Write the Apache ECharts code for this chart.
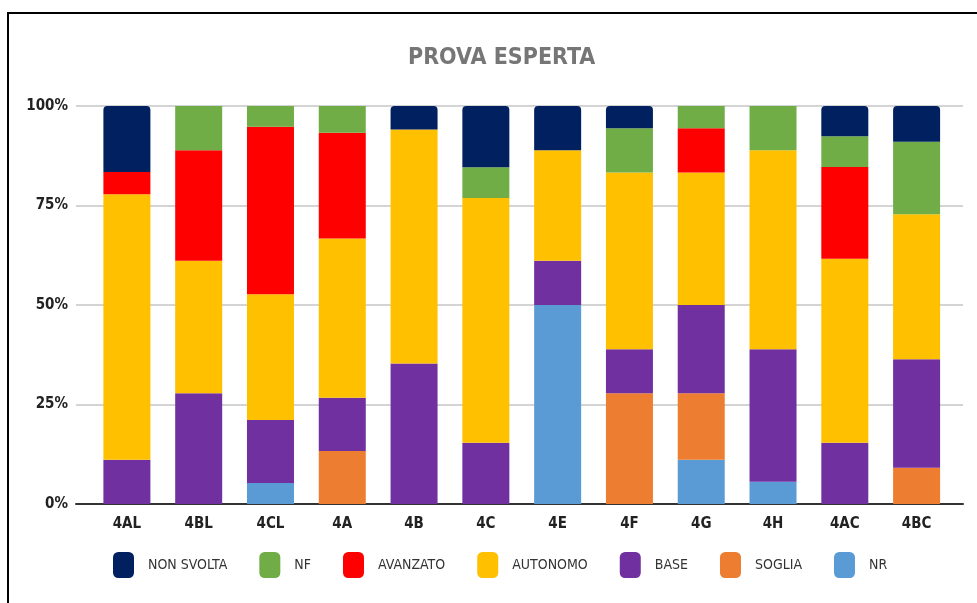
<!DOCTYPE html>
<html>
<head>
<meta charset="utf-8">
<script src="https://cdn.jsdelivr.net/npm/echarts@6/dist/echarts.min.js"></script>
<style>
  html, body { margin: 0; padding: 0; background: #fff; overflow: hidden; }
  #frame { position: absolute; left: 7px; top: 12px; width: 1100px; height: 800px;
           border-left: 2px solid #000; border-top: 2px solid #000; }
  #chart { position: absolute; left: 0; top: 0; width: 977px; height: 603px; }
</style>
</head>
<body>
<div id="frame"></div>
<div id="chart"></div>
<script>
  // classi
  const classes = ['4AL', '4BL', '4CL', '4A', '4B', '4C', '4E', '4F', '4G', '4H', '4AC', '4BC']
  const yTicks = [0, 25, 50, 75, 100]

  // percentuali (dal basso verso l'alto)
  const nr        = [0,    0,    5.3,  0,    0,    0,    50,   0,    11.1, 5.6,  0,    0]
  const soglia    = [0,    0,    0,    13.3, 0,    0,    0,    27.8, 16.7, 0,    0,    9.1]
  const base      = [11.1, 27.8, 15.8, 13.4, 35.3, 15.4, 11.1, 11.1, 22.2, 33.3, 15.4, 27.3]
  const autonomo  = [66.7, 33.3, 31.6, 40.0, 58.8, 61.5, 27.8, 44.4, 33.3, 50,   46.2, 36.4]
  const avanzato  = [5.6,  27.8, 42.1, 26.6, 0,    0,    0,    0,    11.1, 0,    23.1, 0]
  const nf        = [0,    11.1, 5.2,  6.7,  0,    7.7,  0,    11.1, 5.6,  11.1, 7.7,  18.2]
  const nonSvolta = [16.6, 0,    0,    0,    5.9,  15.4, 11.1, 5.6,  0,    0,    7.6,  9.0]

  const FONT = '"Liberation Sans Narrow", "Arial Narrow", "DejaVu Sans Condensed", sans-serif'

  const chart = echarts.init(document.getElementById('chart'), null, { renderer: 'canvas' })

  function bar(name, data, color, radius) {
    return {
      name: name,
      type: 'bar',
      stack: 'tot',
      xAxisIndex: 1,
      yAxisIndex: 1,
      barWidth: 47,
      data: data,
      itemStyle: { color: color, borderRadius: radius || 0 }
    }
  }

  chart.setOption({
    animation: false,
    title: {
      text: 'PROVA ESPERTA',
      left: 403,
      top: 42,
      textStyle: { fontFamily: FONT, fontSize: 23, fontWeight: 'bold', color: '#767676' }
    },
    legend: {
      left: 108,
      top: 547,
      itemWidth: 21,
      itemHeight: 26,
      itemGap: 32,
      icon: 'roundRect',
      data: ['NON SVOLTA', 'NF', 'AVANZATO', 'AUTONOMO', 'BASE', 'SOGLIA', 'NR'],
      textStyle: { fontFamily: FONT, fontSize: 14, color: '#333', padding: [0, 0, 0, 9] }
    },
    grid: [
      { left: 76, width: 887, top: 106, height: 398 },
      { left: 91, width: 861.5, top: 106, height: 398 }
    ],
    xAxis: [
      {
        type: 'value', gridIndex: 0, min: 0, max: 1,
        axisLine: { show: true, onZero: false, lineStyle: { color: '#333', width: 2 } },
        axisTick: { show: false }, axisLabel: { show: false }, splitLine: { show: false }
      },
      {
        type: 'category', gridIndex: 1, data: classes,
        axisLine: { show: false }, axisTick: { show: false },
        axisLabel: { margin: 13, fontFamily: FONT, fontSize: 15, fontWeight: 'bold', color: '#222' }
      }
    ],
    yAxis: [
      {
        type: 'value', gridIndex: 0, min: yTicks[0], max: yTicks[yTicks.length - 1], interval: 25,
        axisLine: { show: false }, axisTick: { show: false },
        axisLabel: { margin: 8, formatter: '{value}%', fontFamily: FONT, fontSize: 15, fontWeight: 'bold', color: '#222' },
        splitLine: { lineStyle: { color: '#d4d4d4', width: 2 } }
      },
      {
        type: 'value', gridIndex: 1, min: 0, max: 100, show: false
      }
    ],
    series: [
      bar('NR', nr, '#5B9BD5'),
      bar('SOGLIA', soglia, '#ED7D31'),
      bar('BASE', base, '#7030A0'),
      bar('AUTONOMO', autonomo, '#FFC000'),
      bar('AVANZATO', avanzato, '#FF0000'),
      bar('NF', nf, '#70AD47'),
      bar('NON SVOLTA', nonSvolta, '#002060', [4, 4, 0, 0])
    ]
  })
</script>
</body>
</html>
